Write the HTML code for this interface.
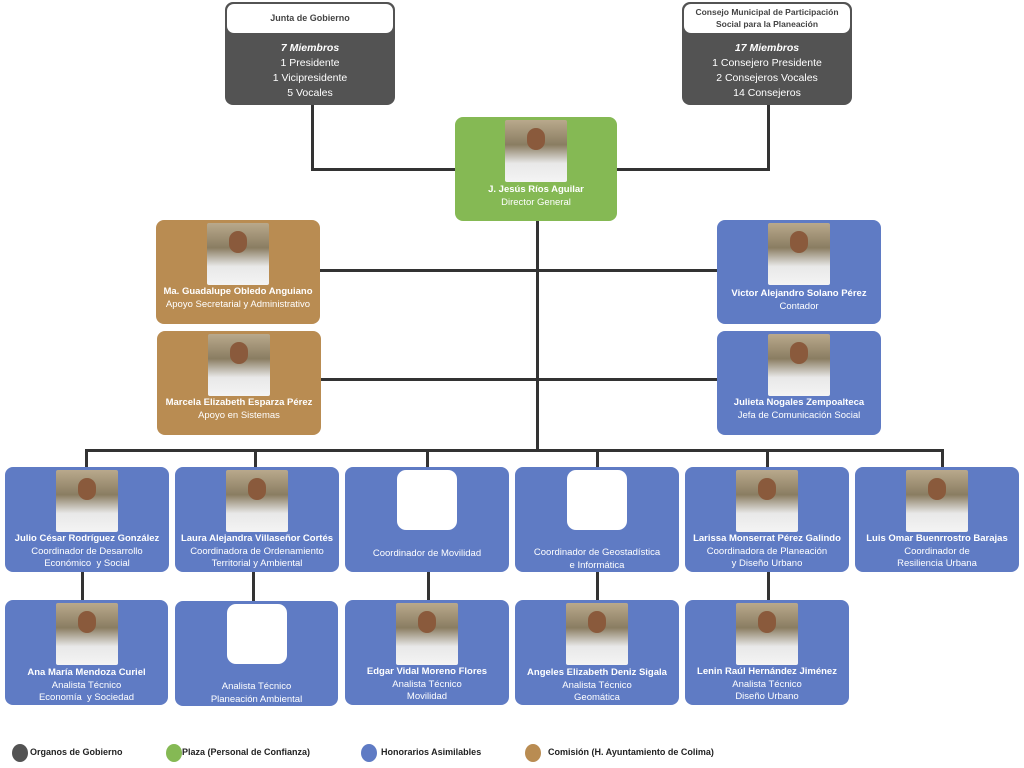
<!DOCTYPE html>
<html><head><meta charset="utf-8"><style>
body{margin:0;width:1024px;height:768px;background:#fff;position:relative;overflow:hidden;font-family:"Liberation Sans",sans-serif;}
.b{position:absolute;border-radius:8px;color:#fff;text-align:center;font-size:9.5px;line-height:12.5px;box-sizing:border-box;}
.bl{background:#5f7bc4}.gr{background:#85b954}.br{background:#b98c52}.dk{background:#535353}
.p{position:absolute;left:50%;top:3px;width:62px;height:62px;margin-left:-31px;background:linear-gradient(180deg,#b9a98c 0%,#8a7d62 40%,#e8e8e8 70%,#f4f4f4 100%);border-radius:2px}
.p i{position:absolute;left:22px;top:8px;width:18px;height:22px;border-radius:9px;background:#8a5a3c}
.e{position:absolute;left:50%;top:3px;width:60px;height:60px;margin-left:-30px;background:#fff;border-radius:9px}
.t{position:absolute;left:0;right:0;}
b{font-weight:bold}
.l{position:absolute;background:#333}
.lg{position:absolute;top:744px;width:16px;height:18px;border-radius:50%}
.lt{position:absolute;top:747px;font-size:9px;font-weight:bold;color:#222}
</style></head><body>
<!-- lines -->
<div class="l" style="left:311px;top:104px;width:3px;height:67px"></div>
<div class="l" style="left:311px;top:168px;width:145px;height:3px"></div>
<div class="l" style="left:767px;top:104px;width:3px;height:67px"></div>
<div class="l" style="left:616px;top:168px;width:154px;height:3px"></div>
<div class="l" style="left:536px;top:220px;width:3px;height:232px"></div>
<div class="l" style="left:319px;top:269px;width:398px;height:3px"></div>
<div class="l" style="left:320px;top:378px;width:397px;height:3px"></div>
<div class="l" style="left:85px;top:449px;width:859px;height:3px"></div>
<div class="l" style="left:85px;top:449px;width:3px;height:18px"></div>
<div class="l" style="left:254px;top:449px;width:3px;height:18px"></div>
<div class="l" style="left:426px;top:449px;width:3px;height:18px"></div>
<div class="l" style="left:596px;top:449px;width:3px;height:18px"></div>
<div class="l" style="left:766px;top:449px;width:3px;height:18px"></div>
<div class="l" style="left:941px;top:449px;width:3px;height:18px"></div>
<div class="l" style="left:81px;top:571px;width:3px;height:30px"></div>
<div class="l" style="left:252px;top:571px;width:3px;height:30px"></div>
<div class="l" style="left:427px;top:571px;width:3px;height:30px"></div>
<div class="l" style="left:596px;top:571px;width:3px;height:30px"></div>
<div class="l" style="left:767px;top:571px;width:3px;height:30px"></div>

<!-- top -->
<div class="b dk" style="left:225px;top:2px;width:170px;height:103px">
<div style="position:absolute;left:2px;top:2px;right:2px;height:29px;background:#fff;border-radius:7px;color:#444;font-weight:bold;font-size:9px;line-height:29px">Junta de Gobierno</div>
<div class="t" style="top:39px;font-size:10.5px;line-height:15px"><b><i>7 Miembros</i></b><br>1 Presidente<br>1 Vicipresidente<br>5 Vocales</div></div>
<div class="b dk" style="left:682px;top:2px;width:170px;height:103px">
<div style="position:absolute;left:2px;top:2px;right:2px;height:29px;background:#fff;border-radius:7px;color:#444;font-weight:bold;font-size:8.5px;line-height:12px;padding-top:2px;box-sizing:border-box">Consejo Municipal de Participación<br>Social para la Planeación</div>
<div class="t" style="top:39px;font-size:10.5px;line-height:15px"><b><i>17 Miembros</i></b><br>1 Consejero Presidente<br>2 Consejeros Vocales<br>14 Consejeros</div></div>

<div class="b gr" style="left:455px;top:117px;width:162px;height:104px"><div class="p"><i></i></div><div class="t" style="top:67px"><b>J. Jesús Ríos Aguilar</b><br>Director General</div></div>

<div class="b br" style="left:156px;top:220px;width:164px;height:104px"><div class="p"><i></i></div><div class="t" style="top:66px"><b>Ma. Guadalupe Obledo Anguiano</b><br>Apoyo Secretarial y Administrativo</div></div>
<div class="b bl" style="left:717px;top:220px;width:164px;height:104px"><div class="p"><i></i></div><div class="t" style="top:68px"><b>Victor Alejandro Solano Pérez</b><br>Contador</div></div>
<div class="b br" style="left:157px;top:331px;width:164px;height:104px"><div class="p"><i></i></div><div class="t" style="top:66px"><b>Marcela Elizabeth Esparza Pérez</b><br>Apoyo en Sistemas</div></div>
<div class="b bl" style="left:717px;top:331px;width:164px;height:104px"><div class="p"><i></i></div><div class="t" style="top:66px"><b>Julieta Nogales Zempoalteca</b><br>Jefa de Comunicación Social</div></div>

<!-- row coordinators -->
<div class="b bl" style="left:5px;top:467px;width:164px;height:105px"><div class="p"><i></i></div><div class="t" style="top:66px"><b>Julio César Rodríguez González</b><br>Coordinador de Desarrollo<br>Económico &nbsp;y Social</div></div>
<div class="b bl" style="left:175px;top:467px;width:164px;height:105px"><div class="p"><i></i></div><div class="t" style="top:66px"><b>Laura Alejandra Villaseñor Cortés</b><br>Coordinadora de Ordenamiento<br>Territorial y Ambiental</div></div>
<div class="b bl" style="left:345px;top:467px;width:164px;height:105px"><div class="e"></div><div class="t" style="top:81px">Coordinador de Movilidad</div></div>
<div class="b bl" style="left:515px;top:467px;width:164px;height:105px"><div class="e"></div><div class="t" style="top:80px">Coordinador de Geostadística<br>e Informática</div></div>
<div class="b bl" style="left:685px;top:467px;width:164px;height:105px"><div class="p"><i></i></div><div class="t" style="top:66px"><b>Larissa Monserrat Pérez Galindo</b><br>Coordinadora de Planeación<br>y Diseño Urbano</div></div>
<div class="b bl" style="left:855px;top:467px;width:164px;height:105px"><div class="p"><i></i></div><div class="t" style="top:66px"><b>Luis Omar Buenrrostro Barajas</b><br>Coordinador de<br>Resiliencia Urbana</div></div>

<!-- analysts -->
<div class="b bl" style="left:5px;top:600px;width:163px;height:105px"><div class="p"><i></i></div><div class="t" style="top:67px"><b>Ana María Mendoza Curiel</b><br>Analista Técnico<br>Economía &nbsp;y Sociedad</div></div>
<div class="b bl" style="left:175px;top:601px;width:163px;height:105px"><div class="e"></div><div class="t" style="top:80px">Analista Técnico<br>Planeación Ambiental</div></div>
<div class="b bl" style="left:345px;top:600px;width:164px;height:105px"><div class="p"><i></i></div><div class="t" style="top:66px"><b>Edgar Vidal Moreno Flores</b><br>Analista Técnico<br>Movilidad</div></div>
<div class="b bl" style="left:515px;top:600px;width:164px;height:105px"><div class="p"><i></i></div><div class="t" style="top:67px"><b>Angeles Elizabeth Deniz Sigala</b><br>Analista Técnico<br>Geomática</div></div>
<div class="b bl" style="left:685px;top:600px;width:164px;height:105px"><div class="p"><i></i></div><div class="t" style="top:66px"><b>Lenin Raúl Hernández Jiménez</b><br>Analista Técnico<br>Diseño Urbano</div></div>

<!-- legend -->
<div class="lg" style="left:12px;background:#535353"></div><div class="lt" style="left:30px">Organos de Gobierno</div>
<div class="lg" style="left:166px;background:#85b954"></div><div class="lt" style="left:182px">Plaza (Personal de Confianza)</div>
<div class="lg" style="left:361px;background:#5f7bc4"></div><div class="lt" style="left:381px">Honorarios Asimilables</div>
<div class="lg" style="left:525px;background:#b98c52"></div><div class="lt" style="left:548px">Comisión (H. Ayuntamiento de Colima)</div>
</body></html>
